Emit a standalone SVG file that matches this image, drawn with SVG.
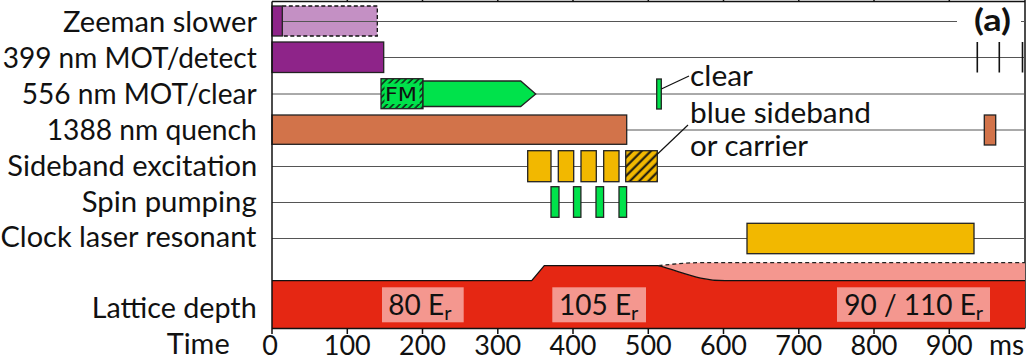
<svg xmlns="http://www.w3.org/2000/svg" width="1028" height="359" viewBox="0 0 1028 359">
<style>
.lbl{font-family:Lato,"Open Sans","Liberation Sans",sans-serif;font-size:28px;fill:#111}
.num{font-family:Lato,"Open Sans","Liberation Sans",sans-serif;font-size:27px;fill:#111;text-anchor:middle}
.sub{font-size:20px}
.grid{stroke:#555;stroke-width:1;fill:none}
.bar{stroke:#222;stroke-width:1.3}
.ax{stroke:#111;stroke-width:1.5;fill:none}
.lead{stroke:#111;stroke-width:1.2;fill:none}
</style>
<defs>
<pattern id="hatchFM" patternUnits="userSpaceOnUse" width="4.5" height="4.5" patternTransform="rotate(45)">
<rect width="4.5" height="4.5" fill="#00E24B"/>
<line x1="1" y1="0" x2="1" y2="4.5" stroke="#111" stroke-width="1.4"/>
</pattern>
<pattern id="hatchSB" patternUnits="userSpaceOnUse" width="6.5" height="6.5" patternTransform="rotate(45)">
<rect width="6.5" height="6.5" fill="#F2B800"/>
<line x1="1.5" y1="0" x2="1.5" y2="6.5" stroke="#111" stroke-width="2"/>
</pattern>
</defs>

<g id="frame">
<line class="ax" x1="272" y1="1.5" x2="1025" y2="1.5"/>
<path class="ax" d="M347.3 0V1.5M422.5 0V1.5M497.8 0V1.5M573 0V1.5M648.3 0V1.5M723.5 0V1.5M798.8 0V1.5M874 0V1.5M949.3 0V1.5"/>
<line class="ax" x1="1025" y1="0" x2="1025" y2="328.5"/>
</g>

<g id="grid">
<line class="grid" x1="272" y1="21.5" x2="957" y2="21.5"/>
<line class="grid" x1="1021" y1="21.5" x2="1025" y2="21.5"/>
<line class="grid" x1="272" y1="57.5" x2="1025" y2="57.5"/>
<line class="grid" x1="272" y1="94" x2="1025" y2="94"/>
<line class="grid" x1="272" y1="130" x2="1025" y2="130"/>
<line class="grid" x1="272" y1="166.5" x2="1025" y2="166.5"/>
<line class="grid" x1="272" y1="202.5" x2="1025" y2="202.5"/>
<line class="grid" x1="272" y1="238.5" x2="1025" y2="238.5"/>
</g>

<g id="zeeman">
<text class="lbl" x="63" y="32" textLength="194" lengthAdjust="spacingAndGlyphs">Zeeman slower</text>
<rect x="282.3" y="6" width="95" height="30" fill="#C490C4"/>
<line class="grid" x1="282.3" y1="21.5" x2="377.3" y2="21.5"/>
<path d="M282.3 6H377.3V36H282.3" fill="none" stroke="#111" stroke-width="1.3" stroke-dasharray="4,2.5"/>
<rect class="bar" x="272" y="6" width="10.3" height="30" fill="#8E2489"/>
</g>

<g id="mot399">
<text class="lbl" x="2.7" y="68" textLength="254" lengthAdjust="spacingAndGlyphs">399 nm MOT/detect</text>
<rect class="bar" x="272" y="42" width="111.7" height="30.5" fill="#8E2489"/>
<path d="M977.3 42V72.5M999.3 42V72.5M1022.5 42V72.5" stroke="#111" stroke-width="1.6"/>
</g>

<g id="mot556">
<text class="lbl" x="21.7" y="104" textLength="235" lengthAdjust="spacingAndGlyphs">556 nm MOT/clear</text>
<rect class="bar" x="381" y="78.7" width="42" height="30" fill="url(#hatchFM)"/>
<rect x="384.5" y="83.5" width="35" height="20.5" fill="#00E24B"/>
<text x="385" y="101" font-family="'DejaVu Sans',sans-serif" font-size="19" fill="#111" textLength="32" lengthAdjust="spacingAndGlyphs">FM</text>
<path class="bar" d="M423 81H520.7L535.7 94L520.7 106.5H423Z" fill="#00E24B"/>
<rect class="bar" x="656.7" y="79" width="4.6" height="30" fill="#00E24B"/>
<text class="lbl" x="690" y="86" textLength="63" lengthAdjust="spacingAndGlyphs">clear</text>
</g>

<g id="quench1388">
<text class="lbl" x="46.7" y="140" textLength="210" lengthAdjust="spacingAndGlyphs">1388 nm quench</text>
<rect class="bar" x="272" y="115" width="354.7" height="29.3" fill="#D2734A"/>
<rect class="bar" x="984.3" y="115" width="11.4" height="30" fill="#D2734A"/>
</g>

<g id="sideband">
<text class="lbl" x="7.3" y="175.5" textLength="250" lengthAdjust="spacingAndGlyphs">Sideband excitation</text>
<rect class="bar" x="527.7" y="150.7" width="23.3" height="31" fill="#F2B800"/>
<rect class="bar" x="558.3" y="150.7" width="15.4" height="31" fill="#F2B800"/>
<rect class="bar" x="581" y="150.7" width="15.3" height="31" fill="#F2B800"/>
<rect class="bar" x="603.7" y="150.7" width="15.3" height="31" fill="#F2B800"/>
<rect class="bar" x="625.7" y="150.7" width="31.6" height="31" fill="url(#hatchSB)"/>
<text class="lbl" x="690" y="123" textLength="181" lengthAdjust="spacingAndGlyphs">blue sideband</text>
<text class="lbl" x="690" y="156" textLength="118" lengthAdjust="spacingAndGlyphs">or carrier</text>
</g>

<g id="spin">
<text class="lbl" x="81.7" y="212" textLength="175" lengthAdjust="spacingAndGlyphs">Spin pumping</text>
<rect class="bar" x="551" y="186.7" width="8" height="30.6" fill="#00E24B"/>
<rect class="bar" x="573.5" y="186.7" width="7.4" height="30.6" fill="#00E24B"/>
<rect class="bar" x="596" y="186.7" width="7.6" height="30.6" fill="#00E24B"/>
<rect class="bar" x="619" y="186.7" width="7.6" height="30.6" fill="#00E24B"/>
</g>

<g id="clock">
<text class="lbl" x="0.5" y="247" textLength="256" lengthAdjust="spacingAndGlyphs">Clock laser resonant</text>
<rect class="bar" x="747" y="223.3" width="227" height="30.4" fill="#F2B800"/>
</g>

<g id="lattice">
<text class="lbl" x="91.7" y="318" textLength="165" lengthAdjust="spacingAndGlyphs">Lattice depth</text>
<path d="M658.3 265.7C675 264 685 262.7 700 262.7H1025V280.7H725C700 280.7 685 273 658.3 265.7Z" fill="#F4978F"/>
<path d="M272 280.7H531.7L544.3 265.7H658.3C685 273 700 280.7 725 280.7H1025V328.5H272Z" fill="#E52713"/>
<path d="M272 280.7H531.7L544.3 265.7H658.3C685 273 700 280.7 725 280.7H1025" fill="none" stroke="#111" stroke-width="1.3"/>
<path d="M658.3 265.7C675 264 685 262.7 700 262.7H1025" fill="none" stroke="#222" stroke-width="1.3" stroke-dasharray="4,3"/>
<rect x="382" y="287.3" width="81.7" height="35" fill="#F4978F"/>
<text class="lbl" x="388.3" y="315">80 E<tspan class="sub" dy="5">r</tspan></text>
<rect x="552.3" y="287.3" width="93.7" height="35" fill="#F4978F"/>
<text class="lbl" x="559" y="315">105 E<tspan class="sub" dy="5">r</tspan></text>
<rect x="837" y="287.3" width="153" height="34.5" fill="#F4978F"/>
<text class="lbl" x="844.3" y="315">90 / 110 E<tspan class="sub" dy="5">r</tspan></text>
</g>

<g id="axis">
<line class="ax" x1="272" y1="1.5" x2="272" y2="334"/>
<line class="ax" x1="272" y1="328.5" x2="1025" y2="328.5"/>
<path class="ax" d="M347.3 328.5V334M422.5 328.5V334M497.8 328.5V334M573 328.5V334M648.3 328.5V334M723.5 328.5V334M798.8 328.5V334M874 328.5V334M949.3 328.5V334"/>
<text class="lbl" x="166.7" y="354" textLength="63" lengthAdjust="spacingAndGlyphs">Time</text>
<text class="num" x="270" y="355">0</text>
<text class="num" x="347.3" y="355">100</text>
<text class="num" x="422.5" y="355">200</text>
<text class="num" x="497.8" y="355">300</text>
<text class="num" x="573" y="355">400</text>
<text class="num" x="648.3" y="355">500</text>
<text class="num" x="723.5" y="355">600</text>
<text class="num" x="798.8" y="355">700</text>
<text class="num" x="874" y="355">800</text>
<text class="num" x="949.3" y="355">900</text>
<text class="lbl" x="989" y="355" font-size="27">ms</text>
</g>

<g id="connectors">
<line class="lead" x1="661.3" y1="89" x2="689" y2="76"/>
<line class="lead" x1="657" y1="154.5" x2="688" y2="125"/>
</g>

<text x="974" y="31" font-family="Lato,'Open Sans','Liberation Sans',sans-serif" font-size="30" font-weight="bold" fill="#111" textLength="37" lengthAdjust="spacingAndGlyphs">(a)</text>
</svg>
